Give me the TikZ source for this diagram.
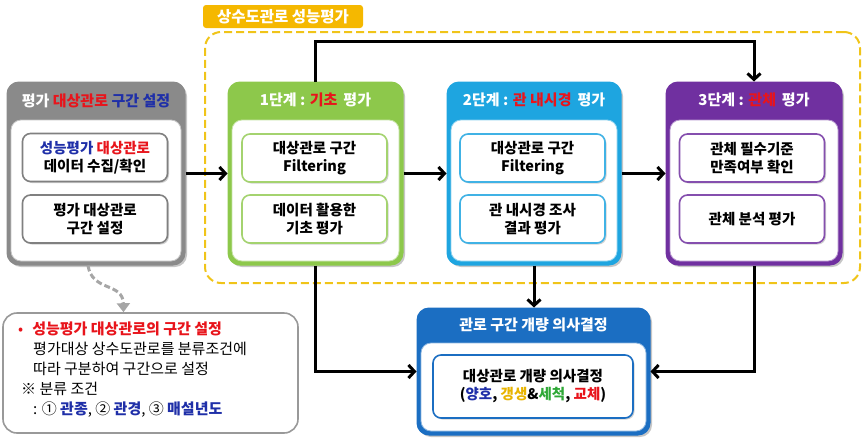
\documentclass[tikz,border=0pt]{standalone}
\usepackage{fontspec}
\setmainfont{Noto Sans CJK KR}
\usepackage{xcolor}
\usetikzlibrary{arrows.meta,shadows,positioning}

\definecolor{grayhead}{HTML}{8A8A8A}
\definecolor{stepgreen}{HTML}{8DC84B}
\definecolor{stepcyan}{HTML}{1EA5E0}
\definecolor{steppurple}{HTML}{7030A0}
\definecolor{decblue}{HTML}{1B6EC2}
\definecolor{frameyellow}{HTML}{F0C419}
\definecolor{tabgold}{HTML}{F5B800}
\definecolor{txtred}{HTML}{E8141B}
\definecolor{txtblue}{HTML}{1F2FA8}
\definecolor{txtgold}{HTML}{E8B400}
\definecolor{txtgreen}{HTML}{2EA836}

\tikzset{
  stagebox/.style={draw=#1, fill=#1, line width=1pt, rounded corners=12pt,
    drop shadow={shadow xshift=2pt, shadow yshift=-2pt, opacity=0.45}},
  pane/.style={draw=#1!50, fill=white, line width=0.8pt, rounded corners=10pt},
  itembox/.style={draw=#1, fill=white, line width=1.6pt, rounded corners=8pt,
    minimum width=145pt, minimum height=48pt, align=center,
    font=\bfseries\fontsize{14.5}{18}\selectfont,
    drop shadow={shadow xshift=1.5pt, shadow yshift=-1.5pt, opacity=0.35}},
  headtext/.style={text=white, font=\bfseries\fontsize{15}{17}\selectfont},
  flow/.style={line width=3pt, -{Straight Barb[length=6pt,width=13pt]}},
  hint/.style={draw=gray!70, line width=3pt, dash pattern=on 6pt off 3pt,
    -{Triangle[length=9pt,width=13pt]}}
}

\begin{document}
\begin{tikzpicture}[x=1pt,y=-1pt]
  \useasboundingbox (0,0) rectangle (866,447);

  % Evaluation frame and its tab
  \node[draw=frameyellow, line width=2pt, dash pattern=on 8pt off 4pt,
        rounded corners=16pt, minimum width=655pt, minimum height=251pt]
        (frame) at (532.5,157.5) {};
  \node[fill=tabgold, rounded corners=3pt, minimum width=160pt, minimum height=23pt,
        text=white, font=\bfseries\fontsize{15.5}{17}\selectfont]
        (tab) at (283,16.5) {상수도관로 성능평가};

  % Section setting (left)
  \node[stagebox=grayhead, minimum width=178pt, minimum height=183pt] (sect) at (96,173.5) {};
  \node[headtext] (secth) at (96,101) {평가 \textcolor{txtred}{대상관로} \textcolor{txtblue}{구간 설정}};
  \node[pane=grayhead, minimum width=170pt, minimum height=141pt] (sectp) at (96,190.5) {};
  \node[itembox=gray] (sect1) at (95,157.5)
    {\textcolor{txtblue}{성능평가} \textcolor{txtred}{대상관로}\\데이터 수집/확인};
  \node[itembox=gray] (sect2) at (95,219) {평가 대상관로\\구간 설정};

  % Step 1
  \node[stagebox=stepgreen, minimum width=175pt, minimum height=183pt] (s1) at (315.5,173.5) {};
  \node[headtext] (s1h) at (315.5,100) {1단계 : \textcolor{txtred}{기초}\, 평가};
  \node[pane=stepgreen, minimum width=167pt, minimum height=141pt] (s1p) at (315.5,190.5) {};
  \node[itembox=stepgreen!80] (s1a) at (314.5,158) {대상관로 구간\\Filtering};
  \node[itembox=stepgreen!80] (s1b) at (314.5,219) {데이터 활용한\\기초 평가};

  % Step 2
  \node[stagebox=stepcyan, minimum width=174pt, minimum height=183pt] (s2) at (534,173.5) {};
  \node[headtext] (s2h) at (534,100) {2단계 : \textcolor{txtred}{관 내시경}\, 평가};
  \node[pane=stepcyan, minimum width=166pt, minimum height=141pt] (s2p) at (534,190.5) {};
  \node[itembox=stepcyan!85] (s2a) at (532.5,158) {대상관로 구간\\Filtering};
  \node[itembox=stepcyan!85] (s2b) at (532.5,219) {관 내시경 조사\\결과 평가};

  % Step 3
  \node[stagebox=steppurple, minimum width=176pt, minimum height=183pt] (s3) at (754,173.5) {};
  \node[headtext] (s3h) at (754,100) {3단계 : \textcolor{txtred}{관체}\, 평가};
  \node[pane=steppurple, minimum width=168pt, minimum height=141pt] (s3p) at (754,190.5) {};
  \node[itembox=steppurple!85] (s3a) at (752,158) {관체 필수기준\\만족여부 확인};
  \node[itembox=steppurple!85] (s3b) at (752,219) {관체 분석 평가};

  % Decision
  \node[stagebox=decblue, minimum width=233pt, minimum height=127pt] (dec) at (533.5,371.5) {};
  \node[headtext] (dech) at (533.5,325) {관로 구간 개량 의사결정};
  \node[pane=decblue, minimum width=225pt, minimum height=88pt] (decp) at (533.5,387) {};
  \node[itembox=decblue, minimum width=200pt, minimum height=63pt] (deca) at (533,386.5)
    {대상관로 개량 의사결정\\(\textcolor{txtblue}{양호}, \textcolor{txtgold}{갱생}\&\textcolor{txtgreen}{세척}, \textcolor{txtred}{교체})};

  % Note
  \node[draw=gray!80, line width=1.6pt, rounded corners=14pt, fill=white,
        minimum width=295pt, minimum height=120pt] (note) at (150.5,373) {};
  \node[anchor=north west, align=left, inner sep=0pt,
        font=\fontsize{15}{20}\selectfont] (notetxt) at (18,322)
    {\textcolor{txtred}{\textbullet\hspace{9pt}\bfseries 성능평가 대상관로의 구간 설정}\\
     \hspace*{15pt}평가대상 상수도관로를 분류조건에\\
     \hspace*{15pt}따라 구분하여 구간으로 설정\\
     \hspace*{3pt}※ 분류 조건\\
     \hspace*{15pt}: ① \textbf{\textcolor{txtblue}{관종}}, ② \textbf{\textcolor{txtblue}{관경}}, ③ \textbf{\textcolor{txtblue}{매설년도}}};

  % Connectors
  \draw[flow] (sect.east) -- (s1.west);
  \draw[flow] (s1.east) -- (s2.west);
  \draw[flow] (s2.east) -- (s3.west);
  \draw[flow] (s1.north) -- ++(0,-40) -| (s3.north);
  \draw[flow] (s1.south) |- (dec.west);
  \draw[flow] (s2.south) -- (s2.south |- dec.north);
  \draw[flow] (s3.south) |- (dec.east);
  \draw[hint] ([xshift=-8pt]sect.south) .. controls (92,292) and (123,282) .. ([xshift=-27pt]note.north);
\end{tikzpicture}
\end{document}
